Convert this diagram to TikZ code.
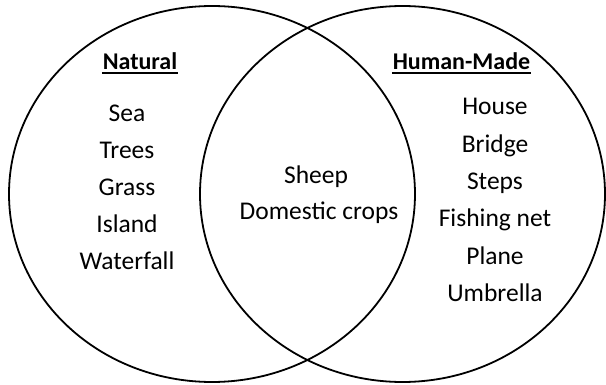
\documentclass[tikz,border=0pt]{standalone}
\usepackage{fontspec}
\setmainfont{Carlito}
\begin{document}
\begin{tikzpicture}[x=1pt,y=-1pt,line width=1.8pt,
	item/.style={anchor=base,inner sep=0pt,font=\fontsize{25.5}{30}\selectfont},
	heading/.style={anchor=base,inner sep=0pt,font=\fontsize{24}{28}\selectfont\bfseries},
	rule/.style={line width=1.5pt}]
		\useasboundingbox (0,0) rectangle (606,385);
		\draw (212,194) ellipse [x radius=203, y radius=188];
		\draw (402.5,194) ellipse [x radius=202.5, y radius=188];
		% Headings
		\node[heading] (natural) at (140,69.3) {Natural};
		\node[heading] (humanmade) at (461.5,69.3) {Human-Made};
		\foreach \h in {natural,humanmade}
		\draw[rule] ([yshift=-3.6pt]\h.base west) -- ([yshift=-3.6pt]\h.base east);
		% Natural
		\foreach \t [count=\i from 0] in {Sea,Trees,Grass,Island,Waterfall}
		\node[item] (nat-\i) at (127,121.5+\i*37) {\t};
		% Human-made
		\foreach \t [count=\i from 0] in {House,Bridge,Steps,Fishing net,Plane,Umbrella}
		\node[item] (hum-\i) at (495,115+\i*37.3) {\t};
		% Both
		\node[item] (sheep) at (316,183.3) {Sheep};
		\node[item] (crops) at (319,220) {Domestic crops};
	\end{tikzpicture}
\end{document}
